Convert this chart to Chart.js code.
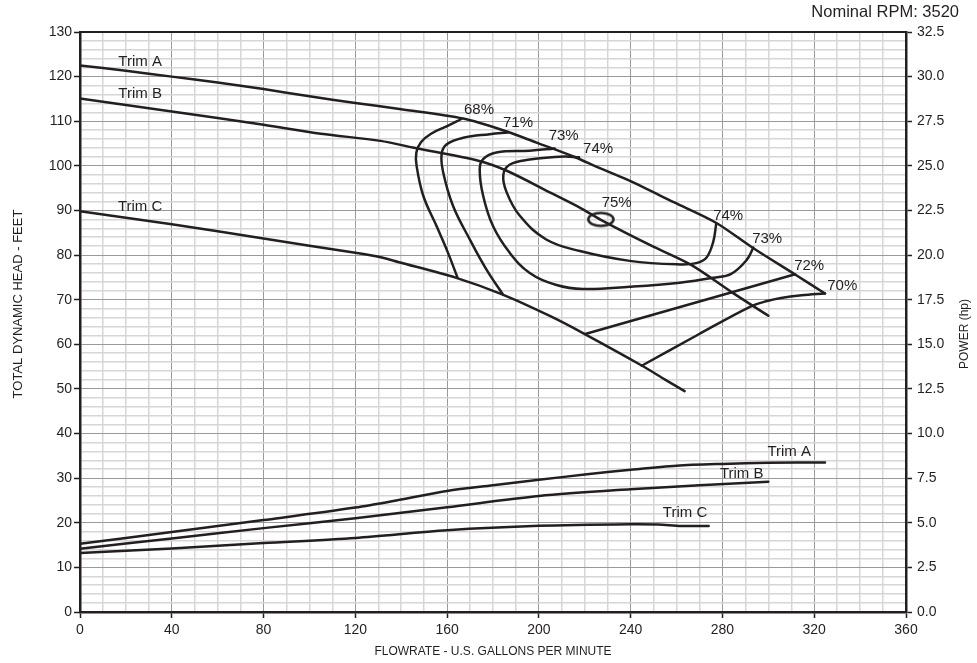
<!DOCTYPE html>
<html>
<head>
<meta charset="utf-8">
<script src="https://cdn.jsdelivr.net/npm/chart.js@4.4.0/dist/chart.umd.min.js"></script>
<style>
html,body{margin:0;padding:0;background:#fff;}
#wrap{width:977px;height:663px;}
</style>
</head>
<body>
<div id="wrap"><canvas id="c" width="977" height="663"></canvas></div>
<script>
// ---- Head curves (flow gpm / head ft) ----
const trimAFlow = [0,20,40,60,80,100,120,140,167,186,199,215,226,238,259,277,293,311.5,324.7];
const trimAHead = [122.5,121.3,120.0,118.7,117.2,115.6,114.1,112.7,110.6,107.7,105.2,102.1,99.6,97.0,91.8,87.3,81.7,75.7,71.4];
const trimBFlow = [0,40,80,105,131,145,174,186,205,218,227,249,266,284,300];
const trimBHead = [115.1,112.2,109.2,107.2,105.6,104.1,101.1,98.9,94.0,90.6,87.9,82.1,77.9,71.7,66.4];
const trimCFlow = [0,40,80,120,131,139,164,184,205,220,245,255,263.5];
const trimCHead = [89.8,86.9,83.7,80.5,79.5,78.4,74.9,71.2,66.3,62.3,55.2,52.1,49.5];

// ---- Efficiency contours ----
const eff68Flow = [166.2,160,153,148.6,146.6,146.7,149.6,155.4,160.4,164.5];
const eff68Head = [110.5,108.9,107.2,105.3,103,100,93.3,86.5,80.5,75];
const eff71Flow = [186.5,178.6,167,159.7,157.6,158.3,162.6,169.9,177.1,184.3];
const eff71Head = [107.5,107.1,106.3,104.8,102.6,98.5,91,83.5,76.8,71.2];
const eff73Flow = [206.9,196,181.5,175.7,174.2,175.7,180,187.3,196,207.7,219.2,239.6,261.4,276,283.8,290.4,293.5];
const eff73Head = [103.9,103.4,103.0,101.5,99.2,93.3,86.5,80.5,76,73.3,72.4,72.9,73.8,74.9,75.8,78.8,81.7];
const eff74Flow = [217.5,211,196,187.4,184.5,186,191.7,203.2,217.9,239.6,261.4,268.6,273,276,277.3];
const eff74Head = [101.9,102.1,101.4,100.3,98,94,88.8,83.5,80.9,78.7,77.9,78.2,79.4,83.0,87.1];
const eff72Flow = [220.2,311.7];
const eff72Head = [62.3,75.7];
const eff70Flow = [244.8,269.5,292,299.5,305.5,314.5,324.7];
const eff70Head = [55.2,62.2,68.4,69.7,70.4,71.0,71.4];
const bepFlow = [227];
const bepHead = [88];

// ---- Power curves (flow gpm / hp) ----
const powAFlow = [0,40,80,120,140,160,180,200,220,240,260,280,300,324.7];
const powAHp = [3.82,4.48,5.15,5.85,6.3,6.78,7.1,7.41,7.7,7.97,8.2,8.3,8.36,8.38];
const powBFlow = [0,40,80,120,160,200,240,270,300];
const powBHp = [3.55,4.12,4.7,5.25,5.87,6.5,6.88,7.1,7.3];
const powCFlow = [0,40,80,120,160,200,240,252,262,274];
const powCHp = [3.3,3.56,3.86,4.15,4.58,4.83,4.92,4.9,4.82,4.82];

// ---- Annotations ----
const labelTexts  = ['Trim A','Trim B','Trim C','68%','71%','73%','74%','75%','74%','73%','72%','70%','Trim A','Trim B','Trim C'];
const labelFlows  = [26.2,26.2,26.2,173.9,190.9,210.8,225.8,233.9,282.5,299.5,317.8,332.2,309.1,288.4,263.7];
const labelValues = [123.2,116.1,90.9,112.6,109.6,106.7,103.8,91.8,88.8,83.6,77.6,73.1,8.99,7.76,5.58];
const labelAxes   = ['y','y','y','y','y','y','y','y','y','y','y','y','y2','y2','y2'];

const titleText = 'Nominal RPM: 3520';
const xTitle = 'FLOWRATE - U.S. GALLONS PER MINUTE';
const yTitle = 'TOTAL DYNAMIC HEAD - FEET';
const y2Title = 'POWER (hp)';

const INK = '#231f20';
const FONT = "'Liberation Sans', Arial, Helvetica, sans-serif";

function pts(xs, ys){ return xs.map((x,i)=>({x:x, y:ys[i]})); }
function curve(xs, ys, axis, tension){
  return {data: pts(xs, ys), yAxisID: axis, showLine: true, borderColor: INK, borderWidth: 2.5,
          pointRadius: 0, tension: tension, fill: false, borderCapStyle: 'round', borderJoinStyle: 'round'};
}

// ellipse marker for BEP
const ell = document.createElement('canvas');
ell.width = 30; ell.height = 18;
(function(){const g = ell.getContext('2d'); g.strokeStyle = INK; g.lineWidth = 2.5;
 g.beginPath(); g.ellipse(15,9,12.6,6.4,0,0,Math.PI*2); g.stroke();})();

const textPlugin = {
  id: 'textPlugin',
  afterDatasetsDraw(chart){
    const ctx = chart.ctx, ca = chart.chartArea;
    ctx.save();
    ctx.strokeStyle = INK; ctx.lineWidth = 2;
    ctx.beginPath(); ctx.moveTo(ca.left-1, ca.top); ctx.lineTo(ca.right+1, ca.top); ctx.stroke();
    ctx.fillStyle = INK;
    ctx.textAlign = 'center'; ctx.textBaseline = 'middle';
    ctx.font = '15px ' + FONT;
    for (let i=0;i<labelTexts.length;i++){
      const px = chart.scales.x.getPixelForValue(labelFlows[i]);
      const py = chart.scales[labelAxes[i]].getPixelForValue(labelValues[i]);
      ctx.fillText(labelTexts[i], px, py);
    }
    ctx.restore();
  },
  afterDraw(chart){
    const ctx = chart.ctx, ca = chart.chartArea;
    ctx.save();
    ctx.fillStyle = INK;
    ctx.font = '16.5px ' + FONT;
    ctx.textAlign = 'right'; ctx.textBaseline = 'middle';
    ctx.fillText(titleText, 959, 12);
    ctx.font = '12px ' + FONT;
    ctx.textAlign = 'center';
    ctx.fillText(xTitle, (ca.left+ca.right)/2, 652);
    ctx.save(); ctx.translate(965, 334); ctx.rotate(-Math.PI/2); ctx.fillText(y2Title, 0, 0); ctx.restore();
    ctx.font = '13px ' + FONT;
    ctx.save(); ctx.translate(18.5, 304); ctx.rotate(-Math.PI/2); ctx.fillText(yTitle, 0, 0); ctx.restore();
    ctx.restore();
  }
};

const majorC = '#9a9a9a', minorC = '#d6d6d6';

new Chart(document.getElementById('c'), {
  type: 'scatter',
  data: { datasets: [
    curve(trimAFlow, trimAHead, 'y', 0.3),
    curve(trimBFlow, trimBHead, 'y', 0.3),
    curve(trimCFlow, trimCHead, 'y', 0.3),
    curve(eff68Flow, eff68Head, 'y', 0.4),
    curve(eff71Flow, eff71Head, 'y', 0.4),
    curve(eff73Flow, eff73Head, 'y', 0.4),
    curve(eff74Flow, eff74Head, 'y', 0.4),
    curve(eff72Flow, eff72Head, 'y', 0),
    curve(eff70Flow, eff70Head, 'y', 0.35),
    curve(powAFlow, powAHp, 'y2', 0.3),
    curve(powBFlow, powBHp, 'y2', 0.3),
    curve(powCFlow, powCHp, 'y2', 0.3),
    {data: pts(bepFlow, bepHead), yAxisID: 'y', showLine: false, pointStyle: ell, pointRadius: 10}
  ]},
  options: {
    responsive: false, animation: false, devicePixelRatio: 1,
    layout: {padding: {top: 32, left: 0, right: 0, bottom: 0}},
    plugins: {legend: {display: false}, tooltip: {enabled: false}, title: {display: false}},
    scales: {
      x: {
        type: 'linear', min: 0, max: 360,
        afterFit(s){ s.height = 51; },
        border: {color: INK, width: 2.5},
        grid: {
          color: c => (c.tick && c.tick.value % 40 === 0) ? majorC : minorC,
          lineWidth: c => (c.tick && c.tick.value % 40 === 0) ? 1 : 1.5,
          tickColor: c => (c.tick && c.tick.value % 40 === 0) ? INK : 'rgba(0,0,0,0)',
          tickLength: 6, tickWidth: 1.5
        },
        ticks: {stepSize: 10, autoSkip: false, maxRotation: 0, padding: 4, color: INK,
          font: {family: FONT, size: 14},
          callback: v => (v % 40 === 0) ? String(v) : ''}
      },
      y: {
        type: 'linear', position: 'left', min: 0, max: 130,
        afterFit(s){ s.width = 80; },
        border: {color: INK, width: 2.5},
        grid: {
          color: c => (c.tick && c.tick.value % 10 === 0) ? majorC : minorC,
          lineWidth: c => (c.tick && c.tick.value % 10 === 0) ? 1 : 1.5,
          tickColor: c => (c.tick && c.tick.value % 10 === 0) ? INK : 'rgba(0,0,0,0)',
          tickLength: 6, tickWidth: 1.5
        },
        ticks: {stepSize: 2, autoSkip: false, padding: 2, color: INK,
          font: {family: FONT, size: 14},
          callback: v => (v % 10 === 0) ? String(v) : ''}
      },
      y2: {
        type: 'linear', position: 'right', min: 0, max: 32.5,
        afterFit(s){ s.width = 71; },
        border: {color: INK, width: 2.5},
        grid: {drawOnChartArea: false, tickColor: INK, tickLength: 6, tickWidth: 1.5},
        ticks: {stepSize: 2.5, autoSkip: false, padding: 5, color: INK,
          font: {family: FONT, size: 14},
          callback: v => Number(v).toFixed(1)}
      }
    }
  },
  plugins: [textPlugin]
});
</script>
</body>
</html>
